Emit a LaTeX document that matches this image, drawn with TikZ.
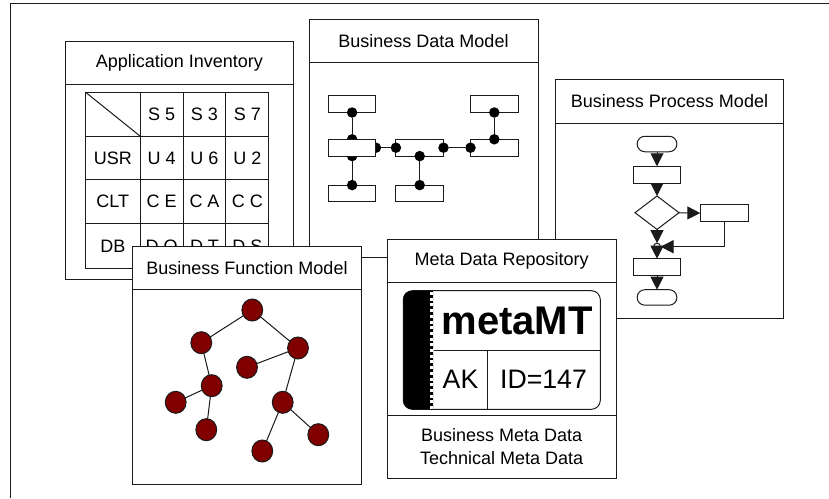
\documentclass[tikz,border=0pt]{standalone}
\usepackage{fontspec}
\setmainfont{Liberation Sans}
\usepackage{xcolor}
\usetikzlibrary{arrows.meta,positioning,shapes.geometric}
\definecolor{rule-dark}{HTML}{1a1a1a}
\definecolor{tree-red}{HTML}{800000}

\begin{document}
\begin{tikzpicture}[x=1pt,y=-1pt,>={Triangle[length=13pt,width=13pt]},line width=1pt,rule-dark]
  \tikzstyle{every node}=[font=\fontsize{18}{23}\selectfont,text=black,outer sep=0pt]
  \tikzstyle{panel}=[draw,fill=white,anchor=north west,inner sep=0pt]
  \tikzstyle{panelhead}=[draw,fill=white,anchor=north,inner sep=0pt]
  \tikzstyle{cell}=[draw,inner sep=0pt,minimum height=43.6pt,minimum width=42.8pt]
  \tikzstyle{entity}=[draw,fill=white,inner sep=0pt,minimum width=47.6pt,minimum height=16.8pt]
  \tikzstyle{keydot}=[circle,fill=black,inner sep=0pt,minimum size=10.5pt]
  \tikzstyle{flowbox}=[draw,fill=white,inner sep=0pt,minimum width=47.4pt,minimum height=17pt]
  \tikzstyle{terminal}=[draw,fill=white,inner sep=0pt,minimum width=39.7pt,minimum height=15.5pt,rounded corners=7.7pt]
  \tikzstyle{treenode}=[ellipse,draw,fill=tree-red,inner sep=0pt,minimum width=20.8pt,minimum height=22pt]

  \useasboundingbox (0,0) rectangle (829,498);
  \fill[white] (0,0) rectangle (829,498);

  %% outer frame
  \coordinate (fa) at (10,498);
  \coordinate (fb) at (10,3.7);
  \coordinate (fc) at (829,3.7);
  \draw (fa) -- (fb) -- (fc);

  %% Application Inventory
  \node[panel,minimum width=228.7pt,minimum height=237.6pt] (inv) at (65,41.7) {};
  \node[panelhead,minimum width=228.7pt,minimum height=42.6pt] (invt) at (inv.north) {Application Inventory};

  \node[cell,minimum width=55pt,minimum height=44.3pt,anchor=north west] (c00) at (85.3,92) {};
  \node[cell,minimum height=44.3pt] (c01) [right=0pt of c00] {S 5};
  \node[cell,minimum height=44.3pt] (c02) [right=0pt of c01] {S 3};
  \node[cell,minimum height=44.3pt] (c03) [right=0pt of c02] {S 7};
  \node[cell,minimum width=55pt] (c10) [below=0pt of c00] {USR};
  \node[cell] (c11) [right=0pt of c10] {U 4};
  \node[cell] (c12) [right=0pt of c11] {U 6};
  \node[cell] (c13) [right=0pt of c12] {U 2};
  \node[cell,minimum width=55pt] (c20) [below=0pt of c10] {CLT};
  \node[cell] (c21) [right=0pt of c20] {C E};
  \node[cell] (c22) [right=0pt of c21] {C A};
  \node[cell] (c23) [right=0pt of c22] {C C};
  \node[cell,minimum width=55pt,minimum height=45pt] (c30) [below=0pt of c20] {DB};
  \node[cell,minimum height=45pt] (c31) [right=0pt of c30] {D O};
  \node[cell,minimum height=45pt] (c32) [right=0pt of c31] {D T};
  \node[cell,minimum height=45pt] (c33) [right=0pt of c32] {D S};
  \draw (c00.north west) -- (c00.south east);

  %% Business Data Model
  \node[panel,minimum width=229pt,minimum height=238.2pt] (dat) at (309,19.3) {};
  \node[panelhead,minimum width=229pt,minimum height=43pt] (datt) at (dat.north) {Business Data Model};

  \node[entity,anchor=north west] (e1) at (328.3,95.7) {};
  \node[entity] (e2) [below=26.8pt of e1] {};
  \node[entity] (e3) [below=29pt of e2] {};
  \node[entity] (e4) [right=20pt of e2] {};
  \node[entity] (e5) [below=29pt of e4] {};
  \node[entity] (e6) [right=27pt of e4] {};
  \node[entity] (e7) [above=26.8pt of e6] {};

  \node[keydot] (d1) at (e1.south) {};
  \node[keydot] (d2) at (e2.north) {};
  \node[keydot] (d3) at (e2.south) {};
  \node[keydot] (d4) at (e3.north) {};
  \node[keydot] (d5) at (e2.east) {};
  \node[keydot] (d6) at (e4.west) {};
  \node[keydot] (d7) at (e4.east) {};
  \node[keydot] (d8) at (e6.west) {};
  \node[keydot] (d9) at (e4.south) {};
  \node[keydot] (d10) at (e5.north) {};
  \node[keydot] (d11) at (e7.south) {};
  \node[keydot] (d12) at (e6.north) {};

  \path
  (d1) edge (d2)
  (d3) edge (d4)
  (d5) edge (d6)
  (d7) edge (d8)
  (d9) edge (d10)
  (d11) edge (d12);
  \node[entity] at (e2) {};

  %% Business Process Model
  \node[panel,minimum width=228.4pt,minimum height=238.4pt] (pro) at (555.3,79.7) {};
  \node[panelhead,minimum width=228.4pt,minimum height=43.6pt] (prot) at (pro.north) {Business Process Model};

  \node[terminal] (p1) at (657,144) {};
  \node[flowbox] (p2) [below=14.5pt of p1] {};
  \node[diamond,draw,fill=white,inner sep=0pt,minimum width=44pt,minimum height=33.4pt] (p3) at (657,212.7) {};
  \node[flowbox,minimum width=48.4pt] (p4) at (724.5,213.3) {};
  \node[circle,draw,fill=white,inner sep=0pt,minimum size=7pt] (p5) at (657,246.7) {};
  \node[flowbox] (p6) at (657,267.2) {};
  \node[terminal] (p7) [below=14pt of p6] {};

  \path[->]
  (p1) edge (p2)
  (p2) edge (p3)
  (p3) edge (p4)
  (p3) edge (p5)
  (p5.center) edge (p6)
  (p6) edge (p7);
  \draw[->] (p4.south) |- (p5);

  %% Business Function Model
  \node[panel,minimum width=228.6pt,minimum height=238pt] (fun) at (132.7,246) {};
  \node[panelhead,minimum width=228.6pt,minimum height=43.3pt] (funt) at (fun.north) {Business Function Model};

  \node[treenode] (t1) at (252.3,310) {};
  \node[treenode] (t2) at (201.3,342.7) {};
  \node[treenode] (t3) at (298,348) {};
  \node[treenode] (t4) at (247,367.3) {};
  \node[treenode] (t5) at (211.7,385.7) {};
  \node[treenode] (t6) at (282.7,402.3) {};
  \node[treenode] (t7) at (175.7,402.3) {};
  \node[treenode] (t8) at (206.3,429.7) {};
  \node[treenode] (t9) at (262.3,451) {};
  \node[treenode] (t10) at (318.3,434.7) {};

  \path
  (t1) edge (t2)
  (t1) edge (t3)
  (t3) edge (t4)
  (t3) edge (t6)
  (t2) edge (t5)
  (t5) edge (t7)
  (t5) edge (t8)
  (t6) edge (t9)
  (t6) edge (t10);

  %% Meta Data Repository
  \node[panel,minimum width=228.7pt,minimum height=238.8pt] (met) at (387.3,239.7) {};
  \node[panelhead,minimum width=228.7pt,minimum height=42.9pt] (mett) at (met.north) {Meta Data Repository};
  \node[panel,minimum width=228.7pt,minimum height=63.3pt,align=center] (metb) at (387.3,415) {Business Meta Data\\Technical Meta Data};

  \node[panel,minimum width=197pt,minimum height=118.6pt,rounded corners=9pt] (bad) at (403.3,290.7) {};
  \fill[black,rounded corners=9pt] (433,409.2) -- (403.3,409.2) -- (403.3,290.8) -- (433,290.8);
  \draw[white,line width=3pt,dash pattern=on 3pt off 2.7pt] (431.3,292) -- (431.3,409);
  \coordinate (ba) at (433.7,350);
  \coordinate (bb) at (487.3,350);
  \coordinate (bc) at (600.3,350);
  \coordinate (bd) at (487.3,409.3);
  \draw (ba) -- (bc);
  \draw (bb) -- (bd);
  \node[font=\fontsize{40}{40}\selectfont\bfseries] (bname) at (517,320.5) {metaMT};
  \node[font=\fontsize{26.7}{30}\selectfont] (bak) at (460.5,379.5) {AK};
  \node[font=\fontsize{26.7}{30}\selectfont] (bid) at (543.5,379.5) {ID=147};
\end{tikzpicture}
\end{document}
